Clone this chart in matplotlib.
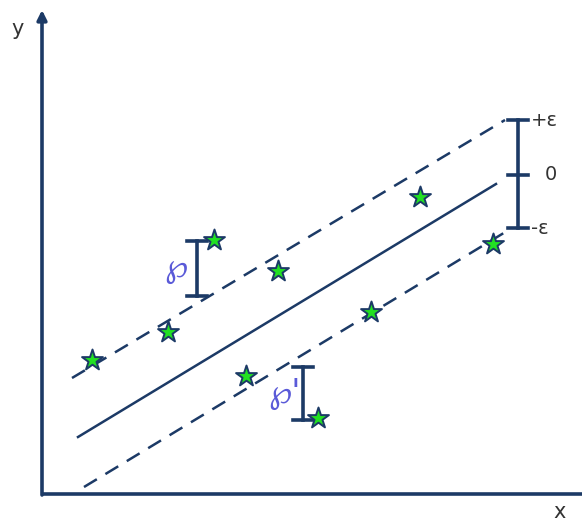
import numpy as np
import matplotlib.pyplot as plt

# pixel-space layout (y grows downward)
star_x = [92, 168, 214, 278, 420, 493, 371, 246, 318]
star_y = [360, 332, 240, 271, 197, 244, 312, 376, 418]

center_line = [(78, 437), (496, 184)]
upper_line = [(72, 378), (505, 120)]
lower_line = [(84, 487), (512, 228)]

eps_x = 518
eps_y = [120, 175, 228]
eps_labels = ['+ε', '0', '-ε']

brackets = [(197, 241, 296, '℘', 176, 267), (303, 367, 420, "℘'", 284, 394)]

navy = '#1c3a66'

fig = plt.figure(figsize=(5.82, 5.25), dpi=100)
ax = fig.add_axes([0, 0, 1, 1])
ax.set_xlim(0, 582)
ax.set_ylim(525, 0)
ax.axis('off')

# axes
ax.plot([42, 582], [494, 494], color=navy, lw=2.6, solid_capstyle='butt')
ax.annotate('', xy=(42, 10), xytext=(42, 495),
            arrowprops=dict(arrowstyle='-|>', color=navy, lw=2.6,
                            mutation_scale=14, shrinkA=0, shrinkB=0))
ax.text(18, 29, 'y', fontsize=15, color='#333333', ha='center', va='center')
ax.text(560, 512, 'x', fontsize=15, color='#333333', ha='center', va='center')

# regression tube
(x0, y0), (x1, y1) = center_line
ax.plot([x0, x1], [y0, y1], color=navy, lw=1.8)
for (x0, y0), (x1, y1) in (upper_line, lower_line):
    ax.plot([x0, x1], [y0, y1], color=navy, lw=1.8, dashes=(6, 4))

# epsilon bar
ax.plot([eps_x, eps_x], [eps_y[0], eps_y[-1]], color=navy, lw=2.6)
for yy, lab in zip(eps_y, eps_labels):
    ax.plot([eps_x - 10, eps_x + 10], [yy, yy], color=navy, lw=2.6)
    dx = 27 if lab == '0' else 13
    ax.text(eps_x + dx, yy, lab, fontsize=14, color='#333333', ha='left', va='center')

# slack brackets
for bx, ya, yb, lab, lx, ly in brackets:
    ax.plot([bx, bx], [ya, yb], color=navy, lw=2.6)
    for yy in (ya, yb):
        ax.plot([bx - 10, bx + 10], [yy, yy], color=navy, lw=2.6)
    ax.text(lx, ly, lab, fontsize=24, color='#5a5ad8', ha='center', va='center')

# data points
ax.scatter(star_x, star_y, marker='*', s=250, c='#22e022', edgecolors=navy,
           linewidths=1.4, zorder=5)

fig.savefig('out.png', dpi=100)
